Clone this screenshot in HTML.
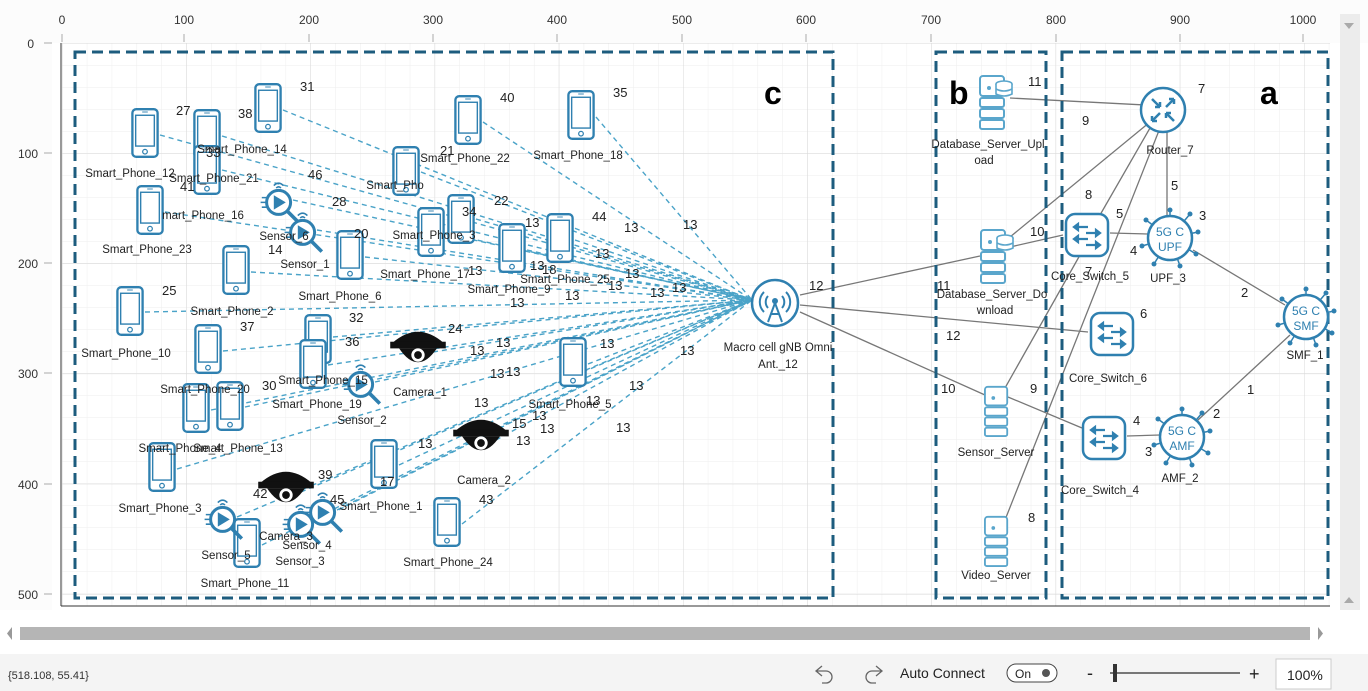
<!DOCTYPE html>
<html><head><meta charset="utf-8"><style>
html,body{margin:0;padding:0;width:1368px;height:691px;overflow:hidden;background:#fff;font-family:"Liberation Sans",sans-serif}
svg{position:absolute;left:0;top:0}
.l{font-size:11.5px;fill:#222;text-anchor:middle}
.n{font-size:13px;fill:#222}
.d{stroke:#4aa3c8;stroke-width:1.4;stroke-dasharray:5,4;fill:none}
.s{stroke:#777;stroke-width:1.3;fill:none}
.g{stroke:#1d5c7e;stroke-width:3;stroke-dasharray:11,6;fill:none}
</style></head><body>
<svg width="1368" height="691" viewBox="0 0 1368 691">
<defs>
<pattern id="mg" x="62" y="43" width="24.84" height="22" patternUnits="userSpaceOnUse"><path d="M0 0H24.84M0 0V22" stroke="#eeeeee" stroke-width="1"/></pattern>
<pattern id="Mg" x="62" y="43" width="124.2" height="110.2" patternUnits="userSpaceOnUse"><path d="M0 0H124.2M0 0V110.2" stroke="#d8d8d8" stroke-width="1"/></pattern>
<symbol id="ph" viewBox="0 0 30 54" overflow="visible"><rect x="1.5" y="1.5" width="27" height="51" rx="4" fill="#fff" stroke="#2f80b0" stroke-width="2.5"/><rect x="5" y="8" width="20" height="33" fill="#fff" stroke="#2f80b0" stroke-width="1.5"/><circle cx="15" cy="47" r="2.5" fill="none" stroke="#2f80b0" stroke-width="1.3"/><line x1="12" y1="4.5" x2="18" y2="4.5" stroke="#2f80b0"/></symbol>
<symbol id="se" viewBox="0 0 40 40" overflow="visible"><circle cx="18" cy="22" r="10" fill="#fff" stroke="#2f80b0" stroke-width="2.5"/><path d="M14 16 L24 22 L14 28 Z" fill="#2f80b0"/><line x1="25" y1="29" x2="34" y2="38" stroke="#2f80b0" stroke-width="3"/><path d="M14 8 Q18 4 22 8 M16 10 Q18 8 20 10" stroke="#2f80b0" fill="none" stroke-width="1.3"/><path d="M4 18h4M3 22h5M4 26h4" stroke="#2f80b0" stroke-width="1.3"/></symbol>
<symbol id="cam" viewBox="0 0 54 40" overflow="visible"><path d="M4 14 Q27 -6 50 14 Z" fill="#111"/><rect x="2" y="13" width="50" height="6" fill="#111"/><path d="M10 19 Q27 44 44 19 Z" fill="#111"/><circle cx="27" cy="25" r="6" fill="#fff"/><circle cx="27" cy="25" r="3.5" fill="#111"/></symbol>
<symbol id="sv" viewBox="0 0 30 56" overflow="visible"><g fill="#fff" stroke="#5aa6cc" stroke-width="2"><rect x="2" y="2" width="24" height="20" rx="3"/><rect x="2" y="24" width="24" height="9" rx="2"/><rect x="2" y="35" width="24" height="9" rx="2"/><rect x="2" y="46" width="24" height="9" rx="2"/></g><circle cx="11" cy="14" r="2" fill="#5aa6cc"/></symbol>
<symbol id="db" viewBox="0 0 36 56" overflow="visible"><use href="#sv" width="30" height="56"/><g fill="#fff" stroke="#5aa6cc" stroke-width="1.6"><ellipse cx="26" cy="10" rx="8" ry="3"/><path d="M18 10v10q8 4 16 0v-10"/><path d="M18 15q8 4 16 0"/></g></symbol>
<symbol id="sw" viewBox="0 0 46 46" overflow="visible"><rect x="2" y="2" width="42" height="42" rx="9" fill="#fff" stroke="#2f80b0" stroke-width="2.5"/><g stroke="#2f80b0" stroke-width="2.2" fill="#2f80b0"><path d="M10 15h14M10 15l4-3v6z"/><path d="M22 21h14M36 21l-4-3v6z"/><path d="M10 27h14M10 27l4-3v6z"/><path d="M22 33h14M36 33l-4-3v6z"/></g></symbol>
<symbol id="gc" viewBox="0 0 60 60" overflow="visible"><g stroke="#2f80b0" stroke-width="1.5"><path d="M30 30L30 2M30 30L50 6M30 30L58 24M30 30L56 46M30 30L40 58M30 30L14 56M30 30L2 38M30 30L6 12"/></g><g fill="#2f80b0"><circle cx="30" cy="2" r="2.5"/><circle cx="50" cy="6" r="2.5"/><circle cx="58" cy="24" r="2.5"/><circle cx="56" cy="46" r="2.5"/><circle cx="40" cy="58" r="2.5"/><circle cx="14" cy="56" r="2.5"/><circle cx="2" cy="38" r="2.5"/><circle cx="6" cy="12" r="2.5"/></g><circle cx="30" cy="30" r="22" fill="#fff" stroke="#2f80b0" stroke-width="2.5"/></symbol>
</defs>
<rect x="0" y="0" width="1368" height="43" fill="#fcfcfc"/>
<rect x="0" y="0" width="52" height="610" fill="#fcfcfc"/>
<rect x="62" y="43" width="1268" height="563" fill="#fff"/>
<rect x="62" y="43" width="1268" height="563" fill="url(#mg)"/>
<rect x="62" y="43" width="1268" height="563" fill="url(#Mg)"/>
<line x1="61" y1="43" x2="61" y2="606" stroke="#333"/><line x1="61" y1="606" x2="1330" y2="606" stroke="#333"/>
<g font-size="12" fill="#333" text-anchor="middle">
<text x="62" y="24">0</text><text x="184" y="24">100</text><text x="309" y="24">200</text><text x="433" y="24">300</text><text x="557" y="24">400</text><text x="682" y="24">500</text><text x="806" y="24">600</text><text x="931" y="24">700</text><text x="1056" y="24">800</text><text x="1180" y="24">900</text><text x="1303" y="24">1000</text>
</g>
<g font-size="12" fill="#333" text-anchor="end">
<text x="34" y="48">0</text><text x="38" y="158">100</text><text x="38" y="268">200</text><text x="38" y="378">300</text><text x="38" y="489">400</text><text x="38" y="599">500</text>
</g>
<g stroke="#aaa"><path d="M62 34v8M184 34v8M309 34v8M433 34v8M557 34v8M682 34v8M806 34v8M931 34v8M1056 34v8M1180 34v8M1303 34v8"/><path d="M44 43h8M44 153h8M44 263h8M44 373h8M44 484h8M44 594h8"/></g>
<rect x="1340" y="14" width="20" height="596" fill="#ececec"/>
<path d="M1344 23h10l-5 6z M1344 603h10l-5-6z" fill="#aaa"/>
<rect x="0" y="612" width="1368" height="40" fill="#fff"/>
<rect x="20" y="627" width="1290" height="13" fill="#b5b5b5"/>
<path d="M12 627v13l-5-6.5z M1318 627v13l5-6.5z" fill="#999"/>
<rect x="0" y="654" width="1368" height="37" fill="#f4f4f4"/>
<text x="8" y="679" font-size="11" fill="#333">{518.108, 55.41}</text>
<path d="M822 666l-6 5 6 5 M816 671h10a6 6 0 0 1 0 12h-4" stroke="#666" fill="none" stroke-width="1.3"/>
<path d="M876 666l6 5-6 5 M882 671h-10a6 6 0 0 0 0 12h4" stroke="#666" fill="none" stroke-width="1.3"/>
<text x="900" y="678" font-size="14" fill="#222">Auto Connect</text>
<rect x="1007" y="664" width="50" height="18" rx="9" fill="#fff" stroke="#444"/><text x="1015" y="678" font-size="12" fill="#222">On</text><circle cx="1046" cy="673" r="4" fill="#555"/>
<text x="1087" y="679" font-size="18" fill="#222">-</text><line x1="1110" y1="673" x2="1240" y2="673" stroke="#777" stroke-width="2"/><rect x="1113" y="664" width="4" height="18" fill="#333"/><text x="1249" y="680" font-size="18" fill="#222">+</text>
<rect x="1276" y="659" width="55" height="30" fill="#fff" stroke="#ccc"/><text x="1287" y="680" font-size="14" fill="#222">100%</text>

<g class="d">
<path d="M160 135L752 300M222 136L752 300M222 170L752 300M283 110L752 300M165 212L752 300M251 272L752 300M145 312L752 300M483 122L752 300M596 117L752 300M421 172L752 300M446 234L752 300M476 219L752 300M527 250L752 300M575 240L752 300M365 257L752 300M223 351L752 300M333 337L752 300M328 365L752 300M211 410L752 300M245 407L752 300M177 469L752 300M588 364L752 300M399 465L752 300M262 545L752 300M462 524L752 300M293 200L752 300M317 230L752 300M375 382L752 300M237 517L752 300M337 510L752 300M315 522L752 300M433 352L752 300M496 440L752 300M301 492L752 300"/>
</g>
<g class="s">
<path d="M800 295L980 256M1010 247L1063 235M1010 237L1150 122M800 305L1088 332M800 312L985 395M1008 397L1082 428M1010 98L1145 105M1080 255L1005 388M1160 128L1005 520M1150 128L1100 215M1167 130L1167 215M1110 233L1148 234M1193 250L1285 305M1127 436L1160 435M1198 420L1290 335"/>
</g>
<rect class="g" x="75" y="52" width="758" height="546"/>
<rect class="g" x="936" y="52" width="110" height="546"/>
<rect class="g" x="1062" y="52" width="266" height="546"/>
<g font-size="32" font-weight="bold" fill="#000"><text x="764" y="104">c</text><text x="949" y="104">b</text><text x="1260" y="104">a</text></g>

<g>
<use href="#ph" x="131" y="107" width="28" height="52"/>
<use href="#ph" x="193" y="108" width="28" height="52"/>
<use href="#ph" x="193" y="144" width="28" height="52"/>
<use href="#ph" x="254" y="82" width="28" height="52"/>
<use href="#ph" x="136" y="184" width="28" height="52"/>
<use href="#ph" x="222" y="244" width="28" height="52"/>
<use href="#ph" x="116" y="285" width="28" height="52"/>
<use href="#ph" x="454" y="94" width="28" height="52"/>
<use href="#ph" x="567" y="89" width="28" height="52"/>
<use href="#ph" x="392" y="145" width="28" height="52"/>
<use href="#ph" x="417" y="206" width="28" height="52"/>
<use href="#ph" x="447" y="193" width="28" height="52"/>
<use href="#ph" x="498" y="222" width="28" height="52"/>
<use href="#ph" x="546" y="212" width="28" height="52"/>
<use href="#ph" x="336" y="229" width="28" height="52"/>
<use href="#ph" x="194" y="323" width="28" height="52"/>
<use href="#ph" x="304" y="313" width="28" height="52"/>
<use href="#ph" x="299" y="338" width="28" height="52"/>
<use href="#ph" x="182" y="382" width="28" height="52"/>
<use href="#ph" x="216" y="380" width="28" height="52"/>
<use href="#ph" x="148" y="441" width="28" height="52"/>
<use href="#ph" x="559" y="336" width="28" height="52"/>
<use href="#ph" x="370" y="438" width="28" height="52"/>
<use href="#ph" x="233" y="517" width="28" height="52"/>
<use href="#ph" x="433" y="496" width="28" height="52"/>
</g>
<use href="#se" x="257" y="176" width="48" height="48"/>
<use href="#se" x="281" y="206" width="48" height="48"/>
<use href="#se" x="339" y="358" width="48" height="48"/>
<use href="#se" x="201" y="493" width="48" height="48"/>
<use href="#se" x="301" y="486" width="48" height="48"/>
<use href="#se" x="279" y="498" width="48" height="48"/>
<use href="#cam" x="388" y="327" width="60" height="45"/>
<use href="#cam" x="451" y="415" width="60" height="45"/>
<use href="#cam" x="256" y="467" width="60" height="45"/>
<circle cx="775" cy="303" r="23" fill="#fff" stroke="#2f80b0" stroke-width="2.5"/>
<g stroke="#2f80b0" stroke-width="2" fill="none"><path d="M768 296a9 9 0 0 0 0 12M782 296a9 9 0 0 1 0 12M764 292a14 14 0 0 0 0 20M786 292a14 14 0 0 1 0 20"/><path d="M775 303L768 322M775 303L782 322M771 314h8"/></g><circle cx="775" cy="301" r="3" fill="#2f80b0"/>
<use href="#db" x="978" y="74" width="36" height="56"/>
<use href="#db" x="979" y="228" width="36" height="56"/>
<use href="#sv" x="983" y="385" width="28" height="52"/>
<use href="#sv" x="983" y="515" width="28" height="52"/>
<circle cx="1163" cy="110" r="22" fill="#fff" stroke="#2f80b0" stroke-width="2.5"/>
<g stroke="#2f80b0" stroke-width="2.5" fill="#2f80b0"><path d="M1152 99l8 8M1160 107h-5M1160 107v-5"/><path d="M1174 99l-8 8M1174 99h-5M1174 99v5"/><path d="M1152 121l8-8M1152 121h5M1152 121v-5"/><path d="M1174 121l-8-8M1166 113h5M1166 113v5"/></g>
<use href="#sw" x="1064" y="212" width="46" height="46"/>
<use href="#sw" x="1089" y="311" width="46" height="46"/>
<use href="#sw" x="1081" y="415" width="46" height="46"/>
<use href="#gc" x="1140" y="208" width="60" height="60"/>
<use href="#gc" x="1152" y="407" width="60" height="60"/>
<use href="#gc" x="1276" y="287" width="60" height="60"/>
<g font-size="12" fill="#2f80b0" text-anchor="middle"><text x="1170" y="236">5G C</text><text x="1170" y="251">UPF</text><text x="1182" y="435">5G C</text><text x="1182" y="450">AMF</text><text x="1306" y="315">5G C</text><text x="1306" y="330">SMF</text></g>

<g class="l">
<text x="130" y="177">Smart_Phone_12</text><text x="214" y="182">Smart_Phone_21</text><text x="242" y="153">Smart_Phone_14</text><text x="203" y="219">mart_Phone_16</text><text x="147" y="253">Smart_Phone_23</text><text x="232" y="315">Smart_Phone_2</text><text x="126" y="357">Smart_Phone_10</text><text x="465" y="162">Smart_Phone_22</text><text x="578" y="159">Smart_Phone_18</text><text x="395" y="189">Smart_Pho</text><text x="434" y="239">Smart_Phone_3</text><text x="425" y="278">Smart_Phone_17</text><text x="509" y="293">Smart_Phone_9</text><text x="565" y="283">Smart_Phone_25</text><text x="340" y="300">Smart_Phone_6</text><text x="205" y="393">Smart_Phone_20</text><text x="323" y="384">Smart_Phone_15</text><text x="317" y="408">Smart_Phone_19</text><text x="238" y="452">Smart_Phone_13</text><text x="180" y="452">Smart_Phone_4</text><text x="570" y="408">Smart_Phone_5</text><text x="381" y="510">Smart_Phone_1</text><text x="160" y="512">Smart_Phone_3</text><text x="245" y="587">Smart_Phone_11</text><text x="448" y="566">Smart_Phone_24</text>
<text x="284" y="240">Sensor_6</text><text x="305" y="268">Sensor_1</text><text x="362" y="424">Sensor_2</text><text x="226" y="559">Sensor_5</text><text x="307" y="549">Sensor_4</text><text x="300" y="565">Sensor_3</text>
<text x="420" y="396">Camera_1</text><text x="484" y="484">Camera_2</text><text x="286" y="540">Camera_3</text>
<text x="778" y="351">Macro cell gNB Omni</text><text x="778" y="368">Ant._12</text>
<text x="988" y="148">Database_Server_Upl</text><text x="984" y="164">oad</text><text x="992" y="298">Database_Server_Do</text><text x="995" y="314">wnload</text><text x="996" y="456">Sensor_Server</text><text x="996" y="579">Video_Server</text>
<text x="1170" y="154">Router_7</text><text x="1090" y="280">Core_Switch_5</text><text x="1168" y="282">UPF_3</text><text x="1108" y="382">Core_Switch_6</text><text x="1100" y="494">Core_Switch_4</text><text x="1180" y="482">AMF_2</text><text x="1305" y="359">SMF_1</text>
</g>
<g class="n">
<text x="176" y="115">27</text><text x="206" y="157">33</text><text x="180" y="191">41</text><text x="238" y="118">38</text><text x="300" y="91">31</text><text x="162" y="295">25</text><text x="500" y="102">40</text><text x="613" y="97">35</text><text x="440" y="155">21</text><text x="462" y="216">34</text><text x="494" y="205">22</text><text x="592" y="221">44</text><text x="308" y="179">46</text><text x="332" y="206">28</text><text x="354" y="238">20</text><text x="268" y="254">14</text><text x="240" y="331">37</text><text x="349" y="322">32</text><text x="345" y="346">36</text><text x="262" y="390">30</text><text x="448" y="333">24</text><text x="418" y="448">13</text><text x="380" y="486">17</text><text x="318" y="479">39</text><text x="253" y="498">42</text><text x="330" y="504">45</text><text x="479" y="504">43</text>
<text x="624" y="232">13</text><text x="683" y="229">13</text><text x="525" y="227">13</text><text x="595" y="258">13</text><text x="625" y="278">13</text><text x="650" y="297">13</text><text x="672" y="292">13</text><text x="608" y="290">13</text><text x="530" y="270">13</text><text x="565" y="300">13</text><text x="468" y="275">13</text><text x="510" y="307">13</text><text x="496" y="347">13</text><text x="470" y="355">13</text><text x="600" y="348">13</text><text x="680" y="355">13</text><text x="490" y="378">13</text><text x="506" y="376">13</text><text x="474" y="407">13</text><text x="532" y="420">13</text><text x="512" y="428">15</text><text x="540" y="433">13</text><text x="586" y="405">13</text><text x="516" y="445">13</text><text x="616" y="432">13</text><text x="629" y="390">13</text><text x="542" y="274">18</text>
<text x="809" y="290">12</text><text x="1028" y="86">11</text><text x="1082" y="125">9</text><text x="1085" y="199">8</text><text x="1030" y="236">10</text><text x="1116" y="218">5</text><text x="1171" y="190">5</text><text x="1198" y="93">7</text><text x="1199" y="220">3</text><text x="1130" y="255">4</text><text x="1241" y="297">2</text><text x="1085" y="276">7</text><text x="937" y="290">11</text><text x="1140" y="318">6</text><text x="946" y="340">12</text><text x="941" y="393">10</text><text x="1030" y="393">9</text><text x="1133" y="425">4</text><text x="1145" y="456">3</text><text x="1213" y="418">2</text><text x="1247" y="394">1</text><text x="1028" y="522">8</text>
</g>
</svg>
</body></html>
